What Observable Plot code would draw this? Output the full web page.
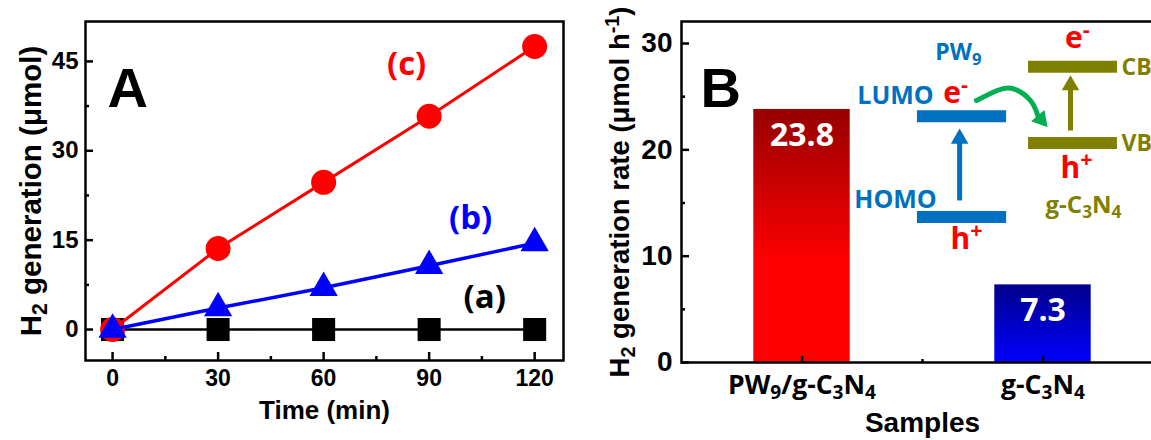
<!DOCTYPE html>
<html><head><meta charset="utf-8">
<script src="https://cdn.jsdelivr.net/npm/d3@7"></script>
<script src="https://cdn.jsdelivr.net/npm/@observablehq/plot@0.6"></script>
<style>
html,body{margin:0;padding:0;background:#fff;overflow:hidden;}
#wrap{position:relative;width:1151px;height:440px;overflow:hidden;background:#fff;}
#a{position:absolute;left:0;top:0;width:575px;height:440px;}
#b{position:absolute;left:575px;top:0;width:600px;height:440px;}
#wrap svg{max-width:none !important;}
</style></head>
<body><div id="wrap"><div id="a"></div><div id="b"></div></div>
<script>
// ---------- Panel A data ----------
const times = [0, 30, 60, 90, 120];
const seriesA = [0, 0, 0, 0, 0];                 // (a)
const seriesB = [0, 3.6, 7.0, 10.7, 14.5];       // (b)
const seriesC = [0, 13.6, 24.7, 35.8, 47.5];     // (c)
const xTicksA = [0, 30, 60, 90, 120];
const xMinorA = [15, 45, 75, 105];
const yTicksA = [0, 15, 30, 45];
const yMinorA = [7.5, 22.5, 37.5];
const seriesLabels = ["(a)", "(b)", "(c)"];
const seriesLabelX = [105.8, 101.8, 83.6];
const seriesLabelY = [5.4, 18.6, 44.5];
const seriesColors = ["#000000", "#0000ff", "#ff0000"];
const xLabelA = "Time (min)";
const yLabelA = "H_{2} generation (μmol)";
const panelA = "A";

// ---------- Panel B data ----------
const samples = ["PW_{9}/g-C_{3}N_{4}", "g-C_{3}N_{4}"];
const rates = [23.8, 7.3];
const rateLabels = ["23.8", "7.3"];
const yTicksB = [0, 10, 20, 30];
const yMinorB = [5, 15, 25];
const xMinorB = [1.5];
const xLabelB = "Samples";
const yLabelB = "H_{2} generation rate (μmol h^{-1})";
const panelB = "B";

// energy diagram (in panel B data units)
const levelNames = ["LUMO", "HOMO", "CB", "VB"];
const levelY = [23.15, 13.68, 27.82, 20.64];
const levelX1 = [1.479, 1.479, 1.940, 1.940];
const levelX2 = [1.849, 1.849, 2.309, 2.309];
const levelColors = ["#0070c0", "#0070c0", "#808000", "#808000"];

const arrowX = [1.654, 2.114];
const arrowY1 = [15.24, 21.82];
const arrowShaftY2 = [21.3, 26.3];
const arrowTipY = [21.98, 26.99];
const arrowColors = ["#0070c0", "#808000"];

const greenX = [1.724, 1.81, 1.878, 1.948, 1.979];
const greenY = [24.64, 25.58, 25.74, 24.64, 23.19];
const greenHead = {x: 1.992, y: 22.85};

const diagTextMid = ["PW_{9}", "LUMO", "HOMO", "e^{-}", "h^{+}", "e^{-}", "h^{+}", "g-C_{3}N_{4}"];
const diagMidX = [1.649, 1.388, 1.388, 1.637, 1.683, 2.143, 2.139, 2.168];
const diagMidY = [29.15, 25.06, 15.28, 25.3, 11.57, 30.47, 18.25, 14.77];
const diagMidColor = ["#0070c0", "#0070c0", "#0070c0", "#ff0000", "#ff0000", "#ff0000", "#ff0000", "#808000"];
const diagMidSize = [23, 25, 25, 30, 30, 30, 30, 24];
const diagTextStart = ["CB", "VB"];
const diagStartX = [2.326, 2.326];
const diagStartY = [27.7, 20.55];

// ---------- helpers ----------
const F = "'Liberation Sans', Arial, sans-serif";
const G = "'Open Sans', sans-serif";
const H = 440;
const SVGNS = "http://www.w3.org/2000/svg";

function rich(svg) {
  svg.querySelectorAll("text").forEach(t => {
    const s = t.textContent;
    if (!/[_^]\{/.test(s)) return;
    const fs = parseFloat(getComputedStyle(t).fontSize);
    t.textContent = "";
    const re = /([_^])\{([^}]*)\}|([^_^]+)/g;
    let m, shift = 0;
    while ((m = re.exec(s))) {
      const ts = document.createElementNS(SVGNS, "tspan");
      let target;
      if (m[1]) {
        target = m[1] === "_" ? 0.22 * fs : -0.38 * fs;
        ts.setAttribute("font-size", (0.72 * fs).toFixed(1));
        ts.textContent = m[2];
      } else {
        target = 0;
        ts.textContent = m[3];
      }
      ts.setAttribute("dy", (target - shift).toFixed(2));
      shift = target;
      t.appendChild(ts);
    }
  });
}

// ---------- Panel A ----------
const WA = 575;
const mA = {left: 85, right: 12, top: 21, bottom: 80};
const pwA = WA - mA.left - mA.right;
const phA = H - mA.top - mA.bottom;
const rowsFor = vals => times.map((t, i) => ({t, v: vals[i]}));
const labRowsA = seriesLabels.map((s, i) => ({s, x: seriesLabelX[i], y: seriesLabelY[i], c: seriesColors[i]}));

const plotA = Plot.plot({
  width: WA, height: H,
  marginLeft: mA.left, marginRight: mA.right, marginTop: mA.top, marginBottom: mA.bottom,
  x: {domain: [-7.7, 128.2], axis: null},
  y: {domain: [-5.2, 51.7], axis: null},
  color: {type: "identity"},
  style: {background: "white", overflow: "visible", fontFamily: F, maxWidth: "none"},
  marks: [
    Plot.line(rowsFor(seriesA), {x: "t", y: "v", stroke: "#000", strokeWidth: 2.5}),
    Plot.dot(rowsFor(seriesA), {x: "t", y: "v", symbol: "square", r: 13, fill: "#000"}),
    Plot.line(rowsFor(seriesC), {x: "t", y: "v", stroke: "#ff0000", strokeWidth: 3}),
    Plot.dot(rowsFor(seriesC), {x: "t", y: "v", symbol: "circle", r: 12.5, fill: "#ff0000"}),
    Plot.line(rowsFor(seriesB), {x: "t", y: "v", stroke: "#0000ff", strokeWidth: 3.5}),
    Plot.dot(rowsFor(seriesB), {x: "t", y: "v", symbol: "triangle", r: 10.5, fill: "#0000ff"}),
    Plot.frame({stroke: "#000", strokeWidth: 2.5}),
    Plot.tickX(xTicksA, {x: d => d, insetTop: phA - 8, stroke: "#000", strokeWidth: 2.5}),
    Plot.tickX(xMinorA, {x: d => d, insetTop: phA - 4, stroke: "#000", strokeWidth: 2.5}),
    Plot.tickY(yTicksA, {y: d => d, insetRight: pwA - 8, stroke: "#000", strokeWidth: 2.5}),
    Plot.tickY(yMinorA, {y: d => d, insetRight: pwA - 4, stroke: "#000", strokeWidth: 2.5}),
    Plot.text(xTicksA, {x: d => d, text: d => String(d), frameAnchor: "bottom", dy: 25,
      fontSize: 23, fontWeight: "bold", fontFamily: F, fill: "#000"}),
    Plot.text(yTicksA, {y: d => d, text: d => String(d), frameAnchor: "left", dx: -7, textAnchor: "end",
      fontSize: 24, fontWeight: "bold", fontFamily: F, fill: "#000"}),
    Plot.text([xLabelA], {text: d => d, frameAnchor: "bottom", dy: 58, textAnchor: "middle",
      fontSize: 26, fontWeight: "bold", fontFamily: F, fill: "#000"}),
    Plot.text([yLabelA], {text: d => d, frameAnchor: "left", dx: -54, rotate: -90, textAnchor: "middle",
      fontSize: 29.5, fontWeight: "bold", fontFamily: F, fill: "#000"}),
    Plot.text([panelA], {text: d => d, frameAnchor: "top-left", dx: 22, dy: 46, textAnchor: "start",
      fontSize: 56, fontWeight: "bold", fontFamily: F, fill: "#000"}),
    Plot.text(labRowsA, {x: "x", y: "y", text: "s", fill: "c",
      fontSize: 33, fontWeight: "bold", fontFamily: G})
  ]
});
document.getElementById("a").appendChild(plotA);
rich(plotA);

// ---------- Panel B ----------
const WB = 600;
const mB = {left: 106, right: 12, top: 21, bottom: 78};
const pwB = WB - mB.left - mB.right;
const phB = H - mB.top - mB.bottom;
const barHalf = 0.2;
const barRows = samples.map((s, i) => ({s, pos: i + 1, v: rates[i], lab: rateLabels[i]}));
const levelRows = levelNames.map((n, i) => ({n, y: levelY[i], x1: levelX1[i], x2: levelX2[i], c: levelColors[i]}));
const arrowRows = arrowX.map((x, i) => ({x, y1: arrowY1[i], y2: arrowShaftY2[i], tip: arrowTipY[i], c: arrowColors[i]}));
const greenRows = greenX.map((x, i) => ({x, y: greenY[i]}));
const midRows = diagTextMid.map((t, i) => ({t, x: diagMidX[i], y: diagMidY[i], c: diagMidColor[i], fs: diagMidSize[i]}));
const startRows = diagTextStart.map((t, i) => ({t, x: diagStartX[i], y: diagStartY[i]}));

const plotB = Plot.plot({
  width: WB, height: H,
  marginLeft: mB.left, marginRight: mB.right, marginTop: mB.top, marginBottom: mB.bottom,
  x: {domain: [0.5, 2.5], axis: null},
  y: {domain: [0, 32.07], axis: null},
  color: {type: "identity"},
  style: {background: "white", overflow: "visible", fontFamily: F, maxWidth: "none"},
  marks: [
    Plot.rectY([barRows[0]], {x1: d => d.pos - barHalf, x2: d => d.pos + barHalf, y: "v", fill: "url(#gRed)"}),
    Plot.rectY([barRows[1]], {x1: d => d.pos - barHalf, x2: d => d.pos + barHalf, y: "v", fill: "url(#gBlue)"}),
    Plot.text(barRows, {x: "pos", y: "v", dy: 26, text: "lab", fill: "white",
      fontSize: 32, fontWeight: "bold", fontFamily: G}),
    Plot.frame({stroke: "#000", strokeWidth: 2.5}),
    Plot.tickX(barRows, {x: "pos", insetTop: phB - 6, stroke: "#000", strokeWidth: 2.5}),
    Plot.tickX(xMinorB, {x: d => d, insetTop: phB - 3, stroke: "#000", strokeWidth: 2.5}),
    Plot.tickY(yTicksB, {y: d => d, insetRight: pwB - 8, stroke: "#000", strokeWidth: 2.5}),
    Plot.tickY(yMinorB, {y: d => d, insetRight: pwB - 4, stroke: "#000", strokeWidth: 2.5}),
    Plot.text(yTicksB, {y: d => d, text: d => String(d), frameAnchor: "left", dx: -9, textAnchor: "end",
      fontSize: 28, fontWeight: "bold", fontFamily: F, fill: "#000"}),
    Plot.text(barRows, {x: "pos", text: "s", frameAnchor: "bottom", dy: 31, textAnchor: "middle",
      fontSize: 26.5, fontWeight: "bold", fontFamily: G, fill: "#000"}),
    Plot.text([xLabelB], {text: d => d, frameAnchor: "bottom", dy: 69, textAnchor: "middle",
      fontSize: 28, fontWeight: "bold", fontFamily: F, fill: "#000"}),
    Plot.text([yLabelB], {text: d => d, frameAnchor: "left", dx: -61, rotate: -90, textAnchor: "middle",
      fontSize: 27.5, fontWeight: "bold", fontFamily: F, fill: "#000"}),
    Plot.text([panelB], {text: d => d, frameAnchor: "top-left", dx: 19, dy: 46, textAnchor: "start",
      fontSize: 56, fontWeight: "bold", fontFamily: F, fill: "#000"}),
    // energy diagram
    Plot.ruleY(levelRows, {y: "y", x1: "x1", x2: "x2", stroke: "c", strokeWidth: 12}),
    Plot.link(arrowRows, {x1: "x", x2: "x", y1: "y1", y2: "y2", stroke: "c", strokeWidth: 5}),
    Plot.dot(arrowRows, {x: "x", y: "tip", dy: 9.8, symbol: "triangle", r: 6.5, fill: "c"}),
    Plot.line(greenRows, {x: "x", y: "y", curve: "natural", stroke: "#00b050", strokeWidth: 5}),
    Plot.dot([greenHead], {x: "x", y: "y", symbol: "triangle", r: 6.5, rotate: 140, fill: "#00b050"}),
    Plot.text(midRows, {x: "x", y: "y", text: "t", fill: "c", fontSize: "fs", fontWeight: "bold", fontFamily: G}),
    Plot.text(startRows, {x: "x", y: "y", text: "t", fill: "#808000", textAnchor: "start",
      fontSize: 23, fontWeight: "bold", fontFamily: G})
  ]
});
document.getElementById("b").appendChild(plotB);

// gradients for the bars
(function addDefs(svg) {
  const defs = document.createElementNS(SVGNS, "defs");
  const mk = (id, stops) => {
    const g = document.createElementNS(SVGNS, "linearGradient");
    g.setAttribute("id", id);
    g.setAttribute("x1", "0"); g.setAttribute("y1", "0");
    g.setAttribute("x2", "0"); g.setAttribute("y2", "1");
    stops.forEach(([o, c]) => {
      const s = document.createElementNS(SVGNS, "stop");
      s.setAttribute("offset", o); s.setAttribute("stop-color", c);
      g.appendChild(s);
    });
    defs.appendChild(g);
  };
  mk("gRed", [["0", "#960000"], ["0.6", "#ff0000"], ["1", "#ff0000"]]);
  mk("gBlue", [["0", "#00008a"], ["1", "#0000ff"]]);
  svg.insertBefore(defs, svg.firstChild);
})(plotB);
rich(plotB);
</script>
</body></html>
